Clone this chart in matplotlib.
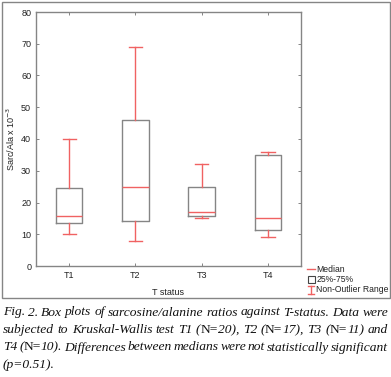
import numpy as np
import matplotlib.pyplot as plt
from matplotlib.lines import Line2D
from matplotlib.patches import Rectangle

# box plot values
groups = ['T1', 'T2', 'T3', 'T4']
whis_lo = [10, 8, 15, 9]
q1 = [13.6, 14.1, 15.6, 11.2]
median = [15.6, 25, 17.1, 15]
q3 = [24.5, 45.9, 25, 34.9]
whis_hi = [40, 69, 32, 36]

caption = [
    [[('Fig.', 'i')], [('2.', 'i')], [('Box', 'i')], [('plots', 'i')], [('of', 'i')],
     [('sarcosine/alanine', 'i')], [('ratios', 'i')], [('against', 'i')],
     [('T-status.', 'i')], [('Data', 'i')], [('were', 'i')]],
    [[('subjected', 'i')], [('to', 'i')], [('Kruskal-Wallis', 'i')], [('test', 'i')],
     [('T1', 'i')], [('(', 'i'), ('N=', 'n'), ('20),', 'i')], [('T2', 'i')],
     [('(', 'i'), ('N=', 'n'), ('17),', 'i')], [('T3', 'i')],
     [('(', 'i'), ('N=', 'n'), ('11)', 'i')], [('and', 'i')]],
    [[('T4', 'i')], [('(', 'i'), ('N=', 'n'), ('10).', 'i')], [('Differences', 'i')],
     [('between', 'i')], [('medians', 'i')], [('were', 'i')], [('not', 'i')],
     [('statistically', 'i')], [('significant', 'i')]],
    [[('(p=0.51).', 'i')]],
]

plt.rcParams['font.family'] = ['Liberation Sans', 'DejaVu Sans']

W, H = 391, 377
fig = plt.figure(figsize=(W / 100, H / 100), dpi=100)
ax = fig.add_axes([36 / W, 1 - 266 / H, 265 / W, 254 / H])

gray = '#858585'
red = '#f06262'
txt = '#222222'

stats = []
for i, g in enumerate(groups):
    stats.append(dict(label=g, med=median[i], q1=q1[i], q3=q3[i],
                      whislo=whis_lo[i], whishi=whis_hi[i], fliers=[]))

ax.bxp(stats, positions=range(1, len(groups) + 1), widths=0.4, capwidths=0.2,
       showfliers=False,
       boxprops=dict(color=gray, lw=1.0),
       medianprops=dict(color=red, lw=1.0),
       whiskerprops=dict(color=red, lw=1.0),
       capprops=dict(color=red, lw=1.0))

ax.set_xlim(0.5, 4.5)
ax.set_ylim(0, 80)
ax.set_yticks(np.arange(0, 81, 10))
for s in ax.spines.values():
    s.set_color(gray)
    s.set_linewidth(1.0)
ax.tick_params(labelsize=6.5, colors=gray, labelcolor=txt, length=2, width=0.7,
               top=True, right=True, direction='in', pad=3.5)
ax.set_xlabel('T status', fontsize=6.5, color=txt, labelpad=6)
ax.set_ylabel('Sarc/Ala x 10$^{-3}$', fontsize=6.5, color=txt, labelpad=3)

# figure frame
fig.add_artist(Rectangle((1.5 / W, 1 - 298 / H), 388 / W, 296.5 / H,
                         transform=fig.transFigure, fill=False, ec=gray, lw=1.0))

# legend drawn by hand
lx = 311 / W
tx = 316.5 / W
fs = 6.2
y1 = 1 - 269 / H
fig.add_artist(Line2D([lx - 4 / W, lx + 4 / W], [y1, y1], color=red, lw=1.0))
fig.text(tx, y1, 'Median', fontsize=fs, va='center', color=txt)
y2 = 1 - 279 / H
fig.add_artist(Rectangle((lx - 3.5 / W, y2 - 3.5 / H), 7 / W, 7 / H,
                         transform=fig.transFigure, fill=False, ec='#444444', lw=0.8))
fig.text(tx, y2, '25%-75%', fontsize=fs, va='center', color=txt)
y3 = 1 - 289.5 / H
fig.add_artist(Line2D([lx, lx], [y3 - 4 / H, y3 + 4 / H], color=red, lw=1.0))
fig.add_artist(Line2D([lx - 3 / W, lx + 3 / W], [y3 + 4 / H, y3 + 4 / H], color=red, lw=1.0))
fig.add_artist(Line2D([lx - 3 / W, lx + 3 / W], [y3 - 4 / H, y3 - 4 / H], color=red, lw=1.0))
fig.text(tx, y3, 'Non-Outlier Range', fontsize=fs, va='center', color=txt)

# justified caption
renderer = fig.canvas.get_renderer()
cfs = 9.7
x_left, x_right = 3 / W, 388 / W
line_y = [312.5, 330, 347.5, 365]


def seg_text(x, y, s, style):
    return fig.text(x, y, s, fontsize=cfs, family='Liberation Serif',
                    style='italic' if style == 'i' else 'normal',
                    va='center', ha='left', color='#111111')


space_w = None
for li, words in enumerate(caption):
    y = 1 - line_y[li] / H
    arts = []
    widths = []
    for w in words:
        parts = []
        total = 0
        for s, st in w:
            t = seg_text(0, y, s, st)
            bw = t.get_window_extent(renderer).width / W
            parts.append((t, bw))
            total += bw
        arts.append(parts)
        widths.append(total)
    if space_w is None:
        sp = seg_text(0, y, 'a a', 'i')
        sa = seg_text(0, y, 'aa', 'i')
        space_w = (sp.get_window_extent(renderer).width - sa.get_window_extent(renderer).width) / W
        sp.remove()
        sa.remove()
    if li < len(caption) - 1 and len(words) > 1:
        gap = (x_right - x_left - sum(widths)) / (len(words) - 1)
    else:
        gap = space_w
    x = x_left
    for parts, wsum in zip(arts, widths):
        xx = x
        for t, bw in parts:
            t.set_x(xx)
            xx += bw
        x += wsum + gap

fig.savefig('out.png', dpi=100)
